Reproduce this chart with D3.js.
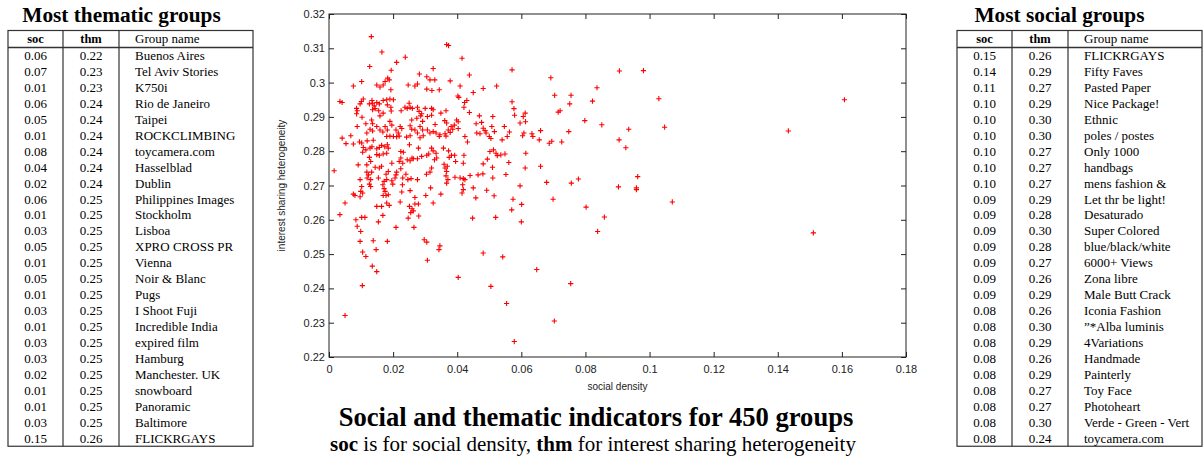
<!DOCTYPE html>
<html>
<head>
<meta charset="utf-8">
<title>Social and thematic indicators</title>
<script src="https://d3js.org/d3.v7.min.js"></script>
<style>
  body { margin: 0; background: #fff; }
  .serif { font-family: "Liberation Serif", "Times New Roman", serif; }
  .sans { font-family: "Liberation Sans", Arial, Helvetica, sans-serif; }
</style>
</head>
<body>
<div id="chart"></div>
<script>
// ---- data ----
let thematicSoc = ["0.06","0.07","0.01","0.06","0.05","0.01","0.08","0.04","0.02","0.06","0.01","0.03","0.05","0.01","0.05","0.01","0.03","0.01","0.03","0.03","0.02","0.01","0.01","0.03","0.15"];
let thematicThm = ["0.22","0.23","0.23","0.24","0.24","0.24","0.24","0.24","0.24","0.25","0.25","0.25","0.25","0.25","0.25","0.25","0.25","0.25","0.25","0.25","0.25","0.25","0.25","0.25","0.26"];
let thematicNames = ["Buenos Aires","Tel Aviv Stories","K750i","Rio de Janeiro","Taipei","ROCKCLIMBING","toycamera.com","Hasselblad","Dublin","Philippines Images","Stockholm","Lisboa","XPRO CROSS PR","Vienna","Noir & Blanc","Pugs","I Shoot Fuji","Incredible India","expired film","Hamburg","Manchester. UK","snowboard","Panoramic","Baltimore","FLICKRGAYS"];

let socialSoc = ["0.15","0.14","0.11","0.10","0.10","0.10","0.10","0.10","0.10","0.09","0.09","0.09","0.09","0.09","0.09","0.09","0.08","0.08","0.08","0.08","0.08","0.08","0.08","0.08","0.08"];
let socialThm = ["0.26","0.29","0.27","0.29","0.30","0.30","0.27","0.27","0.27","0.29","0.28","0.30","0.28","0.27","0.26","0.29","0.26","0.30","0.29","0.26","0.29","0.27","0.27","0.30","0.24"];
let socialNames = ["FLICKRGAYS","Fifty Faves","Pasted Paper","Nice Package!","Ethnic","poles / postes","Only 1000","handbags","mens fashion &","Let thr be light!","Desaturado","Super Colored","blue/black/white","6000+ Views","Zona libre","Male Butt Crack","Iconia Fashion","\u201D*Alba luminis","4Variations","Handmade","Painterly","Toy Face","Photoheart","Verde - Green - Vert","toycamera.com"];

let tableHeaders = ["soc","thm","Group name"];

let xTicks = [0,0.02,0.04,0.06,0.08,0.1,0.12,0.14,0.16,0.18];
let xTickLabels = ["0","0.02","0.04","0.06","0.08","0.1","0.12","0.14","0.16","0.18"];
let yTicks = [0.22,0.23,0.24,0.25,0.26,0.27,0.28,0.29,0.3,0.31,0.32];
let yTickLabels = ["0.22","0.23","0.24","0.25","0.26","0.27","0.28","0.29","0.3","0.31","0.32"];

// [social density, interest sharing heterogeneity]
let groupPoints = [
[0.0132,0.3134],[0.0367,0.3111],[0.0373,0.3108],[0.0165,0.3089],[0.0127,0.3047],[0.0238,0.3074],[0.0211,0.3059],[0.0415,0.3071],[0.0194,0.3036],[0.0325,0.3041],[0.0282,0.3025],[0.0438,0.3022],[0.0102,0.3003],[0.0076,0.2990],[0.0183,0.3013],[0.0188,0.3008],[0.0175,0.3003],[0.0149,0.2993],[0.0159,0.2987],[0.0169,0.2993],[0.0193,0.2979],[0.0305,0.3017],[0.0315,0.3008],[0.0330,0.3008],[0.0247,0.2993],[0.0268,0.2990],[0.0276,0.2996],[0.0305,0.2981],[0.0321,0.2977],[0.0344,0.2979],[0.0378,0.3005],[0.0409,0.2990],[0.0402,0.2961],[0.0405,0.2957],[0.0450,0.2971],[0.0430,0.2948],[0.0423,0.2942],[0.0421,0.2928],[0.0438,0.2913],[0.0459,0.2880],
[0.0034,0.2945],[0.0041,0.2942],[0.0107,0.2952],[0.0101,0.2945],[0.0097,0.2938],[0.0086,0.2925],[0.0088,0.2918],[0.0086,0.2909],[0.0103,0.2899],[0.0126,0.2938],[0.0134,0.2948],[0.0136,0.2940],[0.0141,0.2932],[0.0149,0.2942],[0.0157,0.2938],[0.0169,0.2948],[0.0180,0.2950],[0.0190,0.2952],[0.0201,0.2950],[0.0136,0.2921],[0.0144,0.2924],[0.0155,0.2918],[0.0182,0.2935],[0.0193,0.2928],[0.0159,0.2903],[0.0169,0.2911],[0.0194,0.2917],[0.0225,0.2918],[0.0250,0.2940],[0.0253,0.2928],[0.0237,0.2928],[0.0244,0.2925],[0.0260,0.2925],[0.0276,0.2928],[0.0281,0.2916],[0.0289,0.2909],[0.0300,0.2925],[0.0320,0.2925],[0.0325,0.2921],[0.0349,0.2911],[0.0365,0.2918],[0.0307,0.2901],[0.0320,0.2905],[0.0274,0.2896],[0.0286,0.2903],[0.0258,0.2891],[0.0292,0.2887],[0.0331,0.2878],[0.0361,0.2889],[0.0367,0.2882],[0.0398,0.2891],[0.0403,0.2886],[0.0381,0.2872],[0.0391,0.2876],[0.0372,0.2862],[0.0386,0.2864],[0.0403,0.2866],[0.0362,0.2851],[0.0378,0.2855],[0.0346,0.2848],[0.0325,0.2857],[0.0334,0.2853],[0.0307,0.2862],[0.0315,0.2853],[0.0284,0.2872],[0.0292,0.2862],[0.0268,0.2862],[0.0276,0.2853],[0.0253,0.2874],[0.0258,0.2864],[0.0222,0.2872],[0.0227,0.2866],[0.0209,0.2862],[0.0216,0.2853],[0.0190,0.2887],[0.0196,0.2876],[0.0175,0.2872],[0.0182,0.2862],[0.0159,0.2862],[0.0168,0.2856],[0.0149,0.2872],[0.0133,0.2891],[0.0136,0.2880],[0.0128,0.2864],[0.0136,0.2859],[0.0115,0.2880],[0.0118,0.2853],[0.0088,0.2872],[0.0068,0.2845],[0.0041,0.2838],[0.0180,0.2843],[0.0190,0.2844],[0.0201,0.2843],[0.0211,0.2842],[0.0219,0.2844],[0.0242,0.2841],[0.0253,0.2845],[0.0284,0.2839],[0.0294,0.2845],[0.0344,0.2843],[0.0365,0.2844],[0.0424,0.2843],[0.0461,0.2853],
[0.0053,0.2822],[0.0076,0.2821],[0.0095,0.2827],[0.0102,0.2824],[0.0119,0.2830],[0.0138,0.2832],[0.0107,0.2811],[0.0105,0.2797],[0.0115,0.2804],[0.0128,0.2809],[0.0134,0.2813],[0.0149,0.2807],[0.0157,0.2811],[0.0164,0.2817],[0.0174,0.2813],[0.0182,0.2819],[0.0185,0.2809],[0.0149,0.2790],[0.0157,0.2788],[0.0169,0.2792],[0.0180,0.2794],[0.0126,0.2782],[0.0130,0.2770],[0.0224,0.2799],[0.0232,0.2797],[0.0251,0.2819],[0.0279,0.2809],[0.0320,0.2809],[0.0325,0.2801],[0.0334,0.2794],[0.0329,0.2775],[0.0336,0.2780],[0.0305,0.2788],[0.0311,0.2792],[0.0289,0.2785],[0.0276,0.2778],[0.0263,0.2778],[0.0253,0.2772],[0.0259,0.2780],[0.0244,0.2775],[0.0224,0.2780],[0.0230,0.2765],[0.0219,0.2770],[0.0196,0.2765],[0.0164,0.2756],[0.0157,0.2751],[0.0144,0.2753],[0.0118,0.2760],[0.0091,0.2760],[0.0016,0.2743],[0.0118,0.2739],[0.0123,0.2731],[0.0133,0.2739],[0.0119,0.2722],[0.0130,0.2717],[0.0126,0.2704],[0.0130,0.2697],[0.0097,0.2717],[0.0102,0.2697],[0.0099,0.2683],[0.0076,0.2675],[0.0081,0.2671],[0.0097,0.2667],[0.0105,0.2678],[0.0050,0.2649],[0.0034,0.2615],[0.0084,0.2600],[0.0102,0.2607],[0.0112,0.2607],[0.0088,0.2581],[0.0099,0.2566],[0.0097,0.2537],[0.0138,0.2539],[0.0182,0.2537],[0.0154,0.2594],[0.0168,0.2613],[0.0149,0.2639],[0.0164,0.2639],[0.0180,0.2649],[0.0188,0.2642],[0.0178,0.2671],[0.0185,0.2673],[0.0169,0.2671],[0.0172,0.2691],[0.0175,0.2683],[0.0172,0.2712],[0.0180,0.2717],[0.0168,0.2702],[0.0154,0.2722],[0.0178,0.2733],[0.0185,0.2741],[0.0196,0.2714],[0.0199,0.2704],[0.0206,0.2722],[0.0211,0.2739],[0.0209,0.2731],[0.0224,0.2749],[0.0230,0.2722],[0.0229,0.2702],[0.0240,0.2733],[0.0246,0.2717],[0.0256,0.2720],[0.0276,0.2717],[0.0227,0.2681],[0.0222,0.2652],[0.0253,0.2685],[0.0268,0.2665],[0.0279,0.2646],[0.0268,0.2646],[0.0251,0.2639],[0.0259,0.2632],[0.0263,0.2626],[0.0255,0.2621],[0.0280,0.2611],[0.0247,0.2605],[0.0265,0.2578],[0.0209,0.2578],[0.0304,0.2733],[0.0320,0.2751],[0.0315,0.2739],[0.0317,0.2693],[0.0302,0.2671],[0.0349,0.2675],[0.0325,0.2649],[0.0357,0.2809],[0.0375,0.2782],[0.0382,0.2788],[0.0373,0.2801],[0.0392,0.2788],[0.0395,0.2770],[0.0359,0.2762],[0.0362,0.2751],[0.0367,0.2741],[0.0369,0.2756],[0.0365,0.2728],[0.0371,0.2717],[0.0367,0.2707],[0.0393,0.2724],[0.0409,0.2722],[0.0419,0.2720],[0.0424,0.2717],[0.0421,0.2788],[0.0419,0.2765],[0.0432,0.2827],[0.0417,0.2702],[0.0419,0.2688],[0.0415,0.2678],[0.0440,0.2729],[0.0465,0.2731],[0.0450,0.2693],[0.0458,0.2664],[0.0448,0.2605],[0.0297,0.2542],[0.0305,0.2535],
[0.0050,0.2321],[0.0104,0.2408],[0.0135,0.2465],[0.0149,0.2449],[0.0105,0.2506],[0.0115,0.2493],[0.0147,0.2513],[0.0307,0.2482],[0.0346,0.2524],[0.0343,0.2513],[0.0481,0.2503],[0.0542,0.2492],[0.0403,0.2432],[0.0505,0.2406],[0.0554,0.2356],[0.0578,0.2245],[0.0648,0.2455],[0.0703,0.2305],[0.0754,0.2414],[0.0520,0.2607],[0.0600,0.2594],[0.0570,0.2629],[0.0574,0.2660],[0.0601,0.2645],[0.0699,0.2660],[0.0802,0.2637],[0.0838,0.2566],[0.0515,0.2670],
[0.0571,0.3037],[0.0692,0.3014],[0.0906,0.3034],[0.0523,0.2990],[0.0481,0.2983],[0.0704,0.2963],[0.0755,0.2963],[0.0836,0.2985],[0.0751,0.2938],[0.0822,0.2946],[0.0571,0.2944],[0.0577,0.2924],[0.0579,0.2905],[0.0612,0.2911],[0.0606,0.2901],[0.0721,0.2918],[0.0715,0.2914],[0.0469,0.2903],[0.0511,0.2901],[0.0476,0.2884],[0.0596,0.2882],[0.0613,0.2886],[0.0547,0.2872],[0.0481,0.2867],[0.0487,0.2860],[0.0508,0.2872],[0.0471,0.2851],[0.0490,0.2853],[0.0500,0.2843],[0.0505,0.2837],[0.0516,0.2857],[0.0563,0.2856],[0.0556,0.2843],[0.0540,0.2833],[0.0604,0.2845],[0.0608,0.2853],[0.0633,0.2851],[0.0636,0.2843],[0.0660,0.2860],[0.0656,0.2833],[0.0695,0.2829],[0.0687,0.2823],[0.0726,0.2827],[0.0748,0.2857],[0.0851,0.2877],[0.0798,0.2889],[0.0935,0.2864],[0.0905,0.2833],[0.0926,0.2810],[0.0502,0.2799],[0.0513,0.2804],[0.0521,0.2794],[0.0525,0.2787],[0.0536,0.2789],[0.0549,0.2792],[0.0494,0.2777],[0.0481,0.2763],[0.0510,0.2753],[0.0561,0.2767],[0.0614,0.2794],[0.0612,0.2751],[0.0660,0.2756],[0.0480,0.2734],[0.0552,0.2732],[0.0511,0.2722],[0.0596,0.2699],[0.0679,0.2709],[0.0756,0.2707],[0.0778,0.2719],[0.0903,0.2696],[0.0492,0.2686],[0.0859,0.2608],
[0.0981,0.3035],[0.1029,0.2953],[0.1608,0.2950],[0.1047,0.2870],[0.1433,0.2859],[0.0963,0.2726],[0.0959,0.2693],[0.0959,0.2688],[0.1071,0.2652],[0.1511,0.2562]
];

// ---- svg ----
let W = 1204, H = 458;
let svg = d3.select("#chart").append("svg")
    .attr("width", W)
    .attr("height", H);

// ---- scatter ----
let plot = {left: 329, right: 906, top: 14, bottom: 357};

let xScale = d3.scaleLinear().domain([0, 0.18]).range([plot.left, plot.right]);
let yScale = d3.scaleLinear().domain([0.22, 0.32]).range([plot.bottom, plot.top]);

let axisColor = "#222";

function styleAxis(g) {
    g.selectAll("path").remove();
    g.selectAll("line").attr("stroke", axisColor);
    g.selectAll("text")
        .attr("class", "sans")
        .attr("font-size", "11px")
        .attr("fill", "#222");
}

svg.append("g")
    .attr("transform", "translate(0," + plot.bottom + ")")
    .call(d3.axisBottom(xScale).tickValues(xTicks)
        .tickFormat(function (d, i) { return xTickLabels[i]; })
        .tickSizeInner(-5).tickSizeOuter(0).tickPadding(8))
    .call(styleAxis);

svg.append("g")
    .attr("transform", "translate(0," + plot.top + ")")
    .call(d3.axisTop(xScale).tickValues(xTicks).tickFormat("")
        .tickSizeInner(-5).tickSizeOuter(0))
    .call(styleAxis);

svg.append("g")
    .attr("transform", "translate(" + plot.left + ",0)")
    .call(d3.axisLeft(yScale).tickValues(yTicks)
        .tickFormat(function (d, i) { return yTickLabels[i]; })
        .tickSizeInner(-5).tickSizeOuter(0).tickPadding(4))
    .call(styleAxis);

svg.append("g")
    .attr("transform", "translate(" + plot.right + ",0)")
    .call(d3.axisRight(yScale).tickValues(yTicks).tickFormat("")
        .tickSizeInner(-5).tickSizeOuter(0))
    .call(styleAxis);

svg.append("rect")
    .attr("x", plot.left)
    .attr("y", plot.top)
    .attr("width", plot.right - plot.left)
    .attr("height", plot.bottom - plot.top)
    .attr("fill", "none")
    .attr("stroke", axisColor)
    .attr("stroke-width", 1);

svg.append("g")
    .selectAll("path")
    .data(groupPoints)
    .enter()
    .append("path")
    .attr("transform", function (d) {
        return "translate(" + xScale(d[0]) + "," + yScale(d[1]) + ")";
    })
    .attr("d", "M-2.6,0H2.6M0,-2.6V2.6")
    .attr("stroke", "#ff0000")
    .attr("stroke-width", 1.1)
    .attr("fill", "none");

svg.append("text")
    .attr("class", "sans")
    .attr("x", (plot.left + plot.right) / 2)
    .attr("y", 390)
    .attr("text-anchor", "middle")
    .attr("font-size", "10px")
    .attr("fill", "#222")
    .text("social density");

svg.append("text")
    .attr("class", "sans")
    .attr("transform", "translate(285," + ((plot.top + plot.bottom) / 2) + ") rotate(-90)")
    .attr("text-anchor", "middle")
    .attr("font-size", "10px")
    .attr("fill", "#222")
    .text("interest sharing heterogeneity");

// ---- caption ----
svg.append("text")
    .attr("class", "serif")
    .attr("x", 596)
    .attr("y", 426)
    .attr("text-anchor", "middle")
    .attr("font-size", "26.6px")
    .attr("font-weight", "bold")
    .attr("fill", "#000")
    .text("Social and thematic indicators for 450 groups");

let sub = svg.append("text")
    .attr("class", "serif")
    .attr("x", 593)
    .attr("y", 451)
    .attr("text-anchor", "middle")
    .attr("font-size", "21px")
    .attr("fill", "#000");
sub.append("tspan").attr("font-weight", "bold").text("soc");
sub.append("tspan").text(" is for social density, ");
sub.append("tspan").attr("font-weight", "bold").text("thm");
sub.append("tspan").text(" for interest sharing heterogeneity");

// ---- tables ----
function drawTable(x0, titleX, title, socVals, thmVals, names) {
    let cols = [x0, x0 + 55, x0 + 111, x0 + 245];
    let top = 30.5, headBottom = 47.5, rowH = 15.95;
    let bottom = headBottom + rowH * names.length;
    let g = svg.append("g").attr("class", "serif");

    g.append("text")
        .attr("x", titleX)
        .attr("y", 22)
        .attr("text-anchor", "middle")
        .attr("font-size", "21.3px")
        .attr("font-weight", "bold")
        .text(title);

    g.append("rect")
        .attr("x", cols[0])
        .attr("y", top)
        .attr("width", cols[3] - cols[0])
        .attr("height", bottom - top)
        .attr("fill", "none")
        .attr("stroke", "#333")
        .attr("stroke-width", 1.2);

    g.append("line")
        .attr("x1", cols[0]).attr("x2", cols[3])
        .attr("y1", headBottom).attr("y2", headBottom)
        .attr("stroke", "#333")
        .attr("stroke-width", 1.6);

    [cols[1], cols[2]].forEach(function (cx) {
        g.append("line")
            .attr("x1", cx).attr("x2", cx)
            .attr("y1", top).attr("y2", bottom)
            .attr("stroke", "#333")
            .attr("stroke-width", 1.2);
    });

    // header
    g.append("text").attr("x", (cols[0] + cols[1]) / 2).attr("y", 43)
        .attr("text-anchor", "middle").attr("font-size", "12.5px").attr("font-weight", "bold")
        .text(tableHeaders[0]);
    g.append("text").attr("x", (cols[1] + cols[2]) / 2).attr("y", 43)
        .attr("text-anchor", "middle").attr("font-size", "12.5px").attr("font-weight", "bold")
        .text(tableHeaders[1]);
    g.append("text").attr("x", cols[2] + 16).attr("y", 43)
        .attr("font-size", "13px")
        .text(tableHeaders[2]);

    let rows = g.selectAll("g.row")
        .data(names)
        .enter()
        .append("g")
        .attr("class", "row")
        .attr("transform", function (d, i) {
            return "translate(0," + (headBottom + rowH * (i + 0.5) + 4.5) + ")";
        });

    rows.append("text")
        .attr("x", (cols[0] + cols[1]) / 2)
        .attr("text-anchor", "middle")
        .attr("font-size", "13px")
        .text(function (d, i) { return socVals[i]; });
    rows.append("text")
        .attr("x", (cols[1] + cols[2]) / 2)
        .attr("text-anchor", "middle")
        .attr("font-size", "13px")
        .text(function (d, i) { return thmVals[i]; });
    rows.append("text")
        .attr("x", cols[2] + 16)
        .attr("font-size", "13px")
        .text(function (d) { return d; });
}

drawTable(8, 121.5, "Most thematic groups", thematicSoc, thematicThm, thematicNames);
drawTable(957, 1059.5, "Most social groups", socialSoc, socialThm, socialNames);
</script>
</body>
</html>
